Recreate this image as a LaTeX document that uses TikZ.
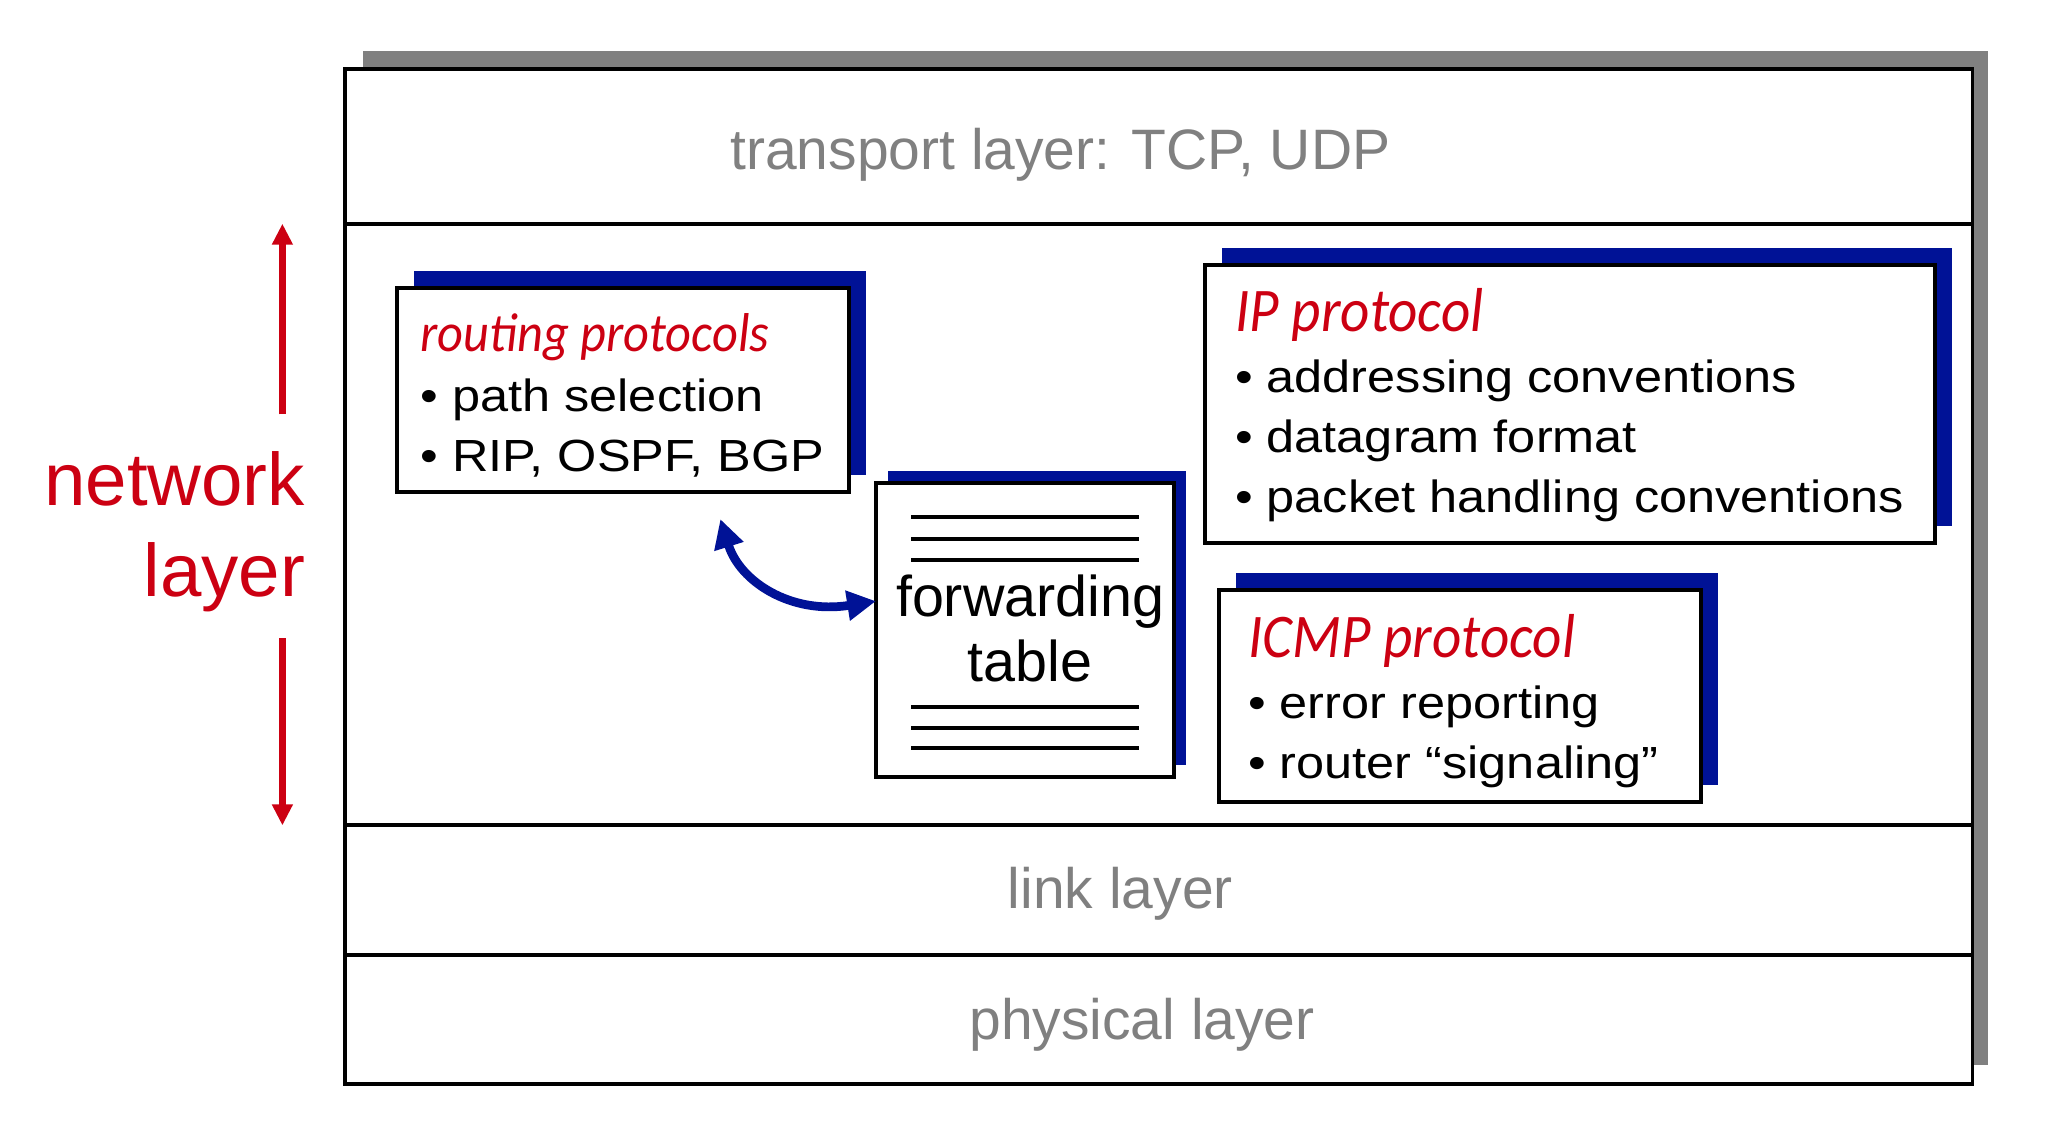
\documentclass[tikz,border=0pt]{standalone}
\usepackage{fontspec}
\setmainfont{Liberation Sans}
\newfontfamily\boxfont{Liberation Sans}[FakeStretch=1.12]
\newfontfamily\titlefont{Carlito}[FakeStretch=0.92]
\usepackage{tikz}
\usetikzlibrary{positioning,arrows.meta,shadows,backgrounds}
\definecolor{netred}{RGB}{204,0,18}
\definecolor{protoblue}{RGB}{0,18,150}
\definecolor{layergray}{RGB}{128,128,128}
\newcommand{\ptitle}[2]{{\titlefont\itshape\fontsize{#1}{13.1}\selectfont\color{netred}#2}}

\begin{document}
\begin{tikzpicture}[x=0.01cm,y=-0.01cm,
    layerbox/.style={draw,line width=0.85pt,fill=white,minimum width=12.44cm,inner sep=0pt,outer sep=0pt},
    layertext/.style={text=layergray,font=\fontsize{12.4}{14}\selectfont,inner sep=0pt,anchor=base},
    protobox/.style={draw,line width=0.85pt,fill=white,anchor=north west,inner sep=0pt,outer sep=0pt,
        drop shadow={shadow xshift=#1,shadow yshift=#1,fill=protoblue,opacity=1}},
    protobox/.default=0.13cm,
    prototext/.style={align=left,anchor=base west,inner sep=0pt,font=\boxfont\fontsize{9.8}{13.1}\selectfont},
    netarrow/.style={-{Triangle[length=0.16cm,width=0.15cm]},line width=1.4pt,draw=netred},
    fwdarrow/.style={{Triangle[length=0.22cm,width=0.22cm]}-{Triangle[length=0.22cm,width=0.22cm]},line width=1.9pt,draw=protoblue},
    tablerule/.style={line width=0.85pt}]
    \useasboundingbox (0,0) rectangle (1568,869);
    % pile de couches
    \node[layerbox,minimum height=1.18cm,anchor=north west] (transport) at (264,53) {};
    \node[layerbox,minimum height=4.6cm,below=0pt of transport] (network) {};
    \node[layerbox,minimum height=0.99cm,below=0pt of network] (link) {};
    \node[layerbox,minimum height=0.985cm,below=0pt of link] (physical) {};
    \begin{scope}[on background layer]
        \fill[layergray] ([xshift=0.14cm,yshift=0.14cm]transport.north west) rectangle ([xshift=0.12cm,yshift=0.145cm]physical.south east);
    \end{scope}
    \node[layertext] (transporttext) at (811,130) {transport layer: TCP, UDP};
    \node[layertext] (linktext) at (857,695) {link layer};
    \node[layertext] (physicaltext) at (873.5,795) {physical layer};

    \node[text=netred,align=right,anchor=base east,inner sep=0pt,font=\fontsize{16.2}{19.8}\selectfont] (netlabel) at (234,456.5) {network\\layer};
    \coordinate (upstart) at (216,317);
    \coordinate (downstart) at (216,488);
    \draw[netarrow] (upstart) -- (upstart |- network.north);
    \draw[netarrow] (downstart) -- (downstart |- network.south);

    % boites des protocoles
    \node[protobox,minimum width=3.45cm,minimum height=1.565cm] (routing) at (304,220) {};
    \node[prototext] (routingtext) at (321,361) {\ptitle{11.9}{routing protocols}\\• path selection\\• RIP, OSPF, BGP};
    \node[protobox,minimum width=5.585cm,minimum height=2.125cm] (ip) at (921.5,203) {};
    \node[prototext] (iptext) at (944,392) {\ptitle{13.5}{IP protocol}\\• addressing conventions\\• datagram format\\• packet handling conventions};
    \node[protobox,minimum width=3.68cm,minimum height=1.62cm] (icmp) at (932.5,451) {};
    \node[prototext] (icmptext) at (954,595.3) {\ptitle{13.5}{ICMP protocol}\\• error reporting\\• router “signaling”};
    \node[protobox=0.09cm,minimum width=2.28cm,minimum height=2.245cm] (fwd) at (670,369.5) {};
    \node[align=center,anchor=base,inner sep=0pt,font=\fontsize{12.5}{14.2}\selectfont] (fwdtext) at (788,521.6) {forwarding\\table};
    \foreach \y in {395.6,412,428,541,556.5,572.3}
        \draw[tablerule] (697,\y) -- (871,\y);

    \coordinate (rpend) at (551,397);
    \draw[fwdarrow] (rpend) .. controls (566,445) and (605,470) .. ([yshift=0.22cm]fwd.west);
\end{tikzpicture}
\end{document}
